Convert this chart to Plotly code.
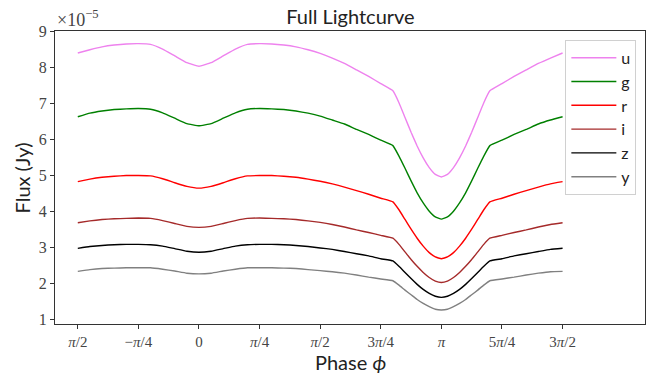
import numpy as np
import plotly.graph_objects as go

# Phase in units of pi
phase_pi = [-0.5, -0.45, -0.4, -0.35, -0.3, -0.25, -0.2, -0.15, -0.1, -0.05,
            0.0, 0.05, 0.1, 0.15, 0.2, 0.25, 0.3, 0.35, 0.4, 0.45,
            0.5, 0.55, 0.6, 0.65, 0.7, 0.75, 0.8,
            0.825, 0.85, 0.875, 0.9, 0.925, 0.95, 0.975, 1.0,
            1.025, 1.05, 1.075, 1.1, 1.125, 1.15, 1.175,
            1.2, 1.25, 1.3, 1.35, 1.4, 1.45, 1.5]

# Flux in units of 1e-5 Jy
flux_u = [8.39, 8.48, 8.56, 8.61, 8.64, 8.65, 8.63, 8.50, 8.31, 8.12, 8.02, 8.12, 8.31, 8.50, 8.63, 8.65, 8.64, 8.61, 8.56, 8.48, 8.38, 8.25, 8.10, 7.92, 7.74, 7.54, 7.34,
          7.01, 6.60, 6.19, 5.81, 5.48, 5.21, 5.02, 4.95, 5.02, 5.21, 5.48, 5.81, 6.19, 6.60, 7.01,
          7.34, 7.54, 7.74, 7.92, 8.10, 8.25, 8.39]
flux_g = [6.62, 6.72, 6.78, 6.82, 6.84, 6.85, 6.83, 6.73, 6.58, 6.43, 6.37, 6.43, 6.58, 6.73, 6.83, 6.85, 6.84, 6.82, 6.78, 6.72, 6.64, 6.53, 6.42, 6.27, 6.13, 5.97, 5.82,
          5.53, 5.19, 4.84, 4.51, 4.23, 4.00, 3.84, 3.78, 3.84, 4.00, 4.23, 4.51, 4.84, 5.19, 5.53,
          5.82, 5.97, 6.13, 6.27, 6.42, 6.53, 6.62]
flux_r = [4.82, 4.89, 4.94, 4.97, 4.99, 4.99, 4.98, 4.90, 4.79, 4.69, 4.64, 4.69, 4.79, 4.90, 4.98, 4.99, 4.99, 4.97, 4.94, 4.89, 4.83, 4.76, 4.67, 4.57, 4.47, 4.36, 4.26,
          4.04, 3.77, 3.50, 3.25, 3.03, 2.85, 2.73, 2.68, 2.73, 2.85, 3.03, 3.25, 3.50, 3.77, 4.04,
          4.26, 4.36, 4.47, 4.57, 4.67, 4.76, 4.82]
flux_i = [3.68, 3.73, 3.77, 3.79, 3.80, 3.81, 3.80, 3.74, 3.66, 3.58, 3.55, 3.58, 3.66, 3.74, 3.80, 3.81, 3.80, 3.79, 3.77, 3.73, 3.69, 3.63, 3.56, 3.48, 3.41, 3.33, 3.25,
          3.08, 2.87, 2.66, 2.47, 2.30, 2.16, 2.06, 2.02, 2.06, 2.16, 2.30, 2.47, 2.66, 2.87, 3.08,
          3.25, 3.33, 3.41, 3.48, 3.56, 3.63, 3.68]
flux_z = [2.97, 3.02, 3.05, 3.07, 3.08, 3.08, 3.07, 3.03, 2.96, 2.89, 2.86, 2.89, 2.96, 3.03, 3.07, 3.08, 3.08, 3.07, 3.05, 3.02, 2.98, 2.94, 2.88, 2.82, 2.76, 2.68, 2.62,
          2.47, 2.30, 2.13, 1.97, 1.83, 1.72, 1.64, 1.61, 1.64, 1.72, 1.83, 1.97, 2.13, 2.30, 2.47,
          2.62, 2.68, 2.76, 2.82, 2.88, 2.94, 2.97]
flux_y = [2.33, 2.38, 2.41, 2.42, 2.43, 2.43, 2.43, 2.39, 2.34, 2.28, 2.26, 2.28, 2.34, 2.39, 2.43, 2.43, 2.43, 2.42, 2.41, 2.38, 2.35, 2.32, 2.28, 2.23, 2.17, 2.12, 2.07,
          1.95, 1.81, 1.68, 1.55, 1.44, 1.35, 1.28, 1.26, 1.28, 1.35, 1.44, 1.55, 1.68, 1.81, 1.95,
          2.07, 2.12, 2.17, 2.23, 2.28, 2.32, 2.33]

bands = ["u", "g", "r", "i", "z", "y"]
fluxes = [flux_u, flux_g, flux_r, flux_i, flux_z, flux_y]
colors = ["#ee82ee", "#008000", "#ff0000", "#a52a2a", "#000000", "#808080"]

tick_pi = [-0.5, -0.25, 0, 0.25, 0.5, 0.75, 1.0, 1.25, 1.5]
tick_labels = ["<i>π</i>/2", "−<i>π</i>/4", "0", "<i>π</i>/4", "<i>π</i>/2",
               "3<i>π</i>/4", "<i>π</i>", "5<i>π</i>/4", "3<i>π</i>/2"]
ytick_vals = [1, 2, 3, 4, 5, 6, 7, 8, 9]

x = np.pi * np.array(phase_pi)

fig = go.Figure()
for b, f, c in zip(bands, fluxes, colors):
    fig.add_trace(go.Scatter(x=x, y=f, mode="lines", name=b,
                             line=dict(color=c, width=1.4, shape="spline", smoothing=0.3)))

serif = "Liberation Serif"
sans = "Lato"

fig.update_layout(
    width=649, height=373,
    margin=dict(l=55, r=4, t=31, b=49, autoexpand=False),
    plot_bgcolor="white", paper_bgcolor="white",
    title=dict(text="Full Lightcurve", x=0.54, xanchor="center", y=0.955, yanchor="middle",
               font=dict(family=sans, size=20, color="#222")),
    showlegend=True,
    legend=dict(x=0.865, y=0.97, xanchor="left", yanchor="top",
                bgcolor="white", bordercolor="#d0d0d0", borderwidth=1,
                font=dict(family=sans, size=16, color="#222"),
                traceorder="normal", itemwidth=45),
    xaxis=dict(range=[-0.594 * np.pi, 1.840 * np.pi], automargin=False,
               tickvals=[np.pi * t for t in tick_pi], ticktext=tick_labels,
               tickfont=dict(family=serif, size=15, color="#444"),
               showgrid=False, zeroline=False,
               showline=True, linecolor="#333", linewidth=1, mirror=True,
               ticks="outside", ticklen=4, tickcolor="#333"),
    yaxis=dict(range=[0.87, 9.0], tickvals=ytick_vals, automargin=False,
               tickfont=dict(family=serif, size=16, color="#444"),
               showgrid=False, zeroline=False,
               showline=True, linecolor="#333", linewidth=1, mirror=True,
               ticks="outside", ticklen=4, tickcolor="#333"),
)

fig.add_annotation(text="Phase <i>ϕ</i>", xref="paper", yref="paper", x=0.5, y=-0.128,
                   xanchor="center", yanchor="middle", showarrow=False,
                   font=dict(family=sans, size=20, color="#222"))
fig.add_annotation(text="Flux (Jy)", xref="paper", yref="paper", x=-0.056, y=0.5,
                   xanchor="center", yanchor="middle", textangle=-90, showarrow=False,
                   font=dict(family=sans, size=20, color="#222"))
fig.add_annotation(text="×10<sup>−5</sup>", xref="paper", yref="paper", x=0.0, y=0.995,
                   xanchor="left", yanchor="bottom", showarrow=False,
                   font=dict(family=serif, size=18, color="#444"))

fig.write_html("out.html", config={"displayModeBar": False},
               post_script="document.body.style.margin='0px';")
